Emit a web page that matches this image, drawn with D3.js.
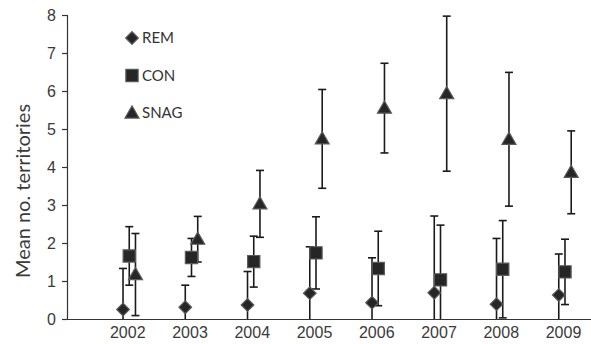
<!DOCTYPE html>
<html>
<head>
<meta charset="UTF-8">
<script src="https://d3js.org/d3.v7.min.js"></script>
<style>
  html, body { margin: 0; padding: 0; background: #fff; }
  svg { display: block; font-family: Lato, "Open Sans", sans-serif; }
  .tick-label { fill: #3a3a3a; font-size: 16px; }
</style>
</head>
<body>
<svg id="chart" width="591" height="344"></svg>
<script>
// --- data ---
const years = [2002, 2003, 2004, 2005, 2006, 2007, 2008, 2009];
const yTicks = [0, 1, 2, 3, 4, 5, 6, 7, 8];
const seriesNames = ["REM", "CON", "SNAG"];
const remMean = [0.25, 0.31, 0.37, 0.68, 0.43, 0.69, 0.39, 0.63];
const remErr  = [1.08, 0.58, 0.88, 1.22, 1.18, 2.02, 1.73, 1.08];
const conMean = [1.66, 1.62, 1.51, 1.74, 1.33, 1.03, 1.31, 1.24];
const conErr  = [0.77, 0.50, 0.67, 0.95, 0.98, 1.44, 1.28, 0.86];
const snagMean = [1.17, 2.10, 3.03, 4.74, 5.55, 5.93, 4.73, 3.86];
const snagErr  = [1.08, 0.60, 0.88, 1.30, 1.18, 2.04, 1.76, 1.09];

const svg = d3.select("#chart");
const x = d3.scaleLinear().domain([2001, 2009.45]).range([67, 593]);
const y = d3.scaleLinear().domain([0, 8]).range([319, 15]);

// diamond = square turned 45 degrees
const series = [
  { name: seriesNames[0], mean: remMean,  err: remErr,  shift: -0.1, symbol: d3.symbolSquare,   size: 80,  rot: 45 },
  { name: seriesNames[1], mean: conMean,  err: conErr,  shift: 0,    symbol: d3.symbolSquare,   size: 150, rot: 0 },
  { name: seriesNames[2], mean: snagMean, err: snagErr, shift: 0.1,  symbol: d3.symbolTriangle, size: 85,  rot: 0 }
];

// y axis
const yAxis = svg.append("g").attr("transform", "translate(67,0)")
  .call(d3.axisLeft(y).tickValues(yTicks).tickSize(5).tickPadding(6).tickFormat(d3.format("d")));
yAxis.select(".domain").attr("stroke", "#333").attr("stroke-width", 1.2);
yAxis.selectAll(".tick line").attr("stroke", "#333").attr("stroke-width", 1.2);
yAxis.selectAll(".tick text").attr("class", "tick-label").attr("font-size", null).attr("font-family", null);

// x axis (no ticks)
const xAxis = svg.append("g").attr("transform", "translate(0,319)")
  .call(d3.axisBottom(x).tickValues(years).tickSize(0).tickPadding(8).tickFormat(d3.format("d")));
xAxis.select(".domain").attr("stroke", "#333").attr("stroke-width", 1.2);
xAxis.selectAll(".tick text").attr("class", "tick-label").attr("font-size", null).attr("font-family", null)
  .attr("dx", -2);

// y title
svg.append("text")
  .attr("transform", "translate(30,191) rotate(-90)")
  .attr("text-anchor", "middle")
  .attr("fill", "#3a3a3a")
  .attr("font-size", 20)
  .text("Mean no. territories");

// error bars
const capW = 4;
series.forEach(s => {
  const g = svg.append("g").attr("stroke", "#1a1a1a").attr("stroke-width", 1.6);
  years.forEach((yr, i) => {
    const cx = x(yr + s.shift);
    const hi = s.mean[i] + s.err[i];
    const lo = s.mean[i] - s.err[i];
    g.append("line").attr("x1", cx).attr("x2", cx).attr("y1", y(hi)).attr("y2", y(Math.max(0, lo)));
    g.append("line").attr("x1", cx - capW).attr("x2", cx + capW).attr("y1", y(hi)).attr("y2", y(hi));
    if (lo >= 0) g.append("line").attr("x1", cx - capW).attr("x2", cx + capW).attr("y1", y(lo)).attr("y2", y(lo));
  });
});

// markers
series.forEach(s => {
  const sym = d3.symbol().type(s.symbol).size(s.size);
  svg.append("g").selectAll("path").data(years).join("path")
    .attr("d", sym)
    .attr("transform", (yr, i) => `translate(${x(yr + s.shift)},${y(s.mean[i]) + (s.name === "SNAG" ? 1 : 0)}) rotate(${s.rot})`)
    .attr("fill", "#262626")
    .attr("stroke", "#5a5a5a")
    .attr("stroke-width", 1.2);
});

// legend
const legend = svg.append("g");
series.forEach((s, i) => {
  const ly = 38 + i * 37.5;
  legend.append("path")
    .attr("d", d3.symbol().type(s.symbol).size(s.size)())
    .attr("transform", `translate(132,${ly + (s.name === "SNAG" ? 1 : 0)}) rotate(${s.rot})`)
    .attr("fill", "#262626").attr("stroke", "#5a5a5a").attr("stroke-width", 1.2);
  legend.append("text")
    .attr("x", 142).attr("y", ly).attr("dy", "0.36em")
    .attr("fill", "#333").attr("font-size", 15)
    .text(s.name);
});
</script>
</body>
</html>
